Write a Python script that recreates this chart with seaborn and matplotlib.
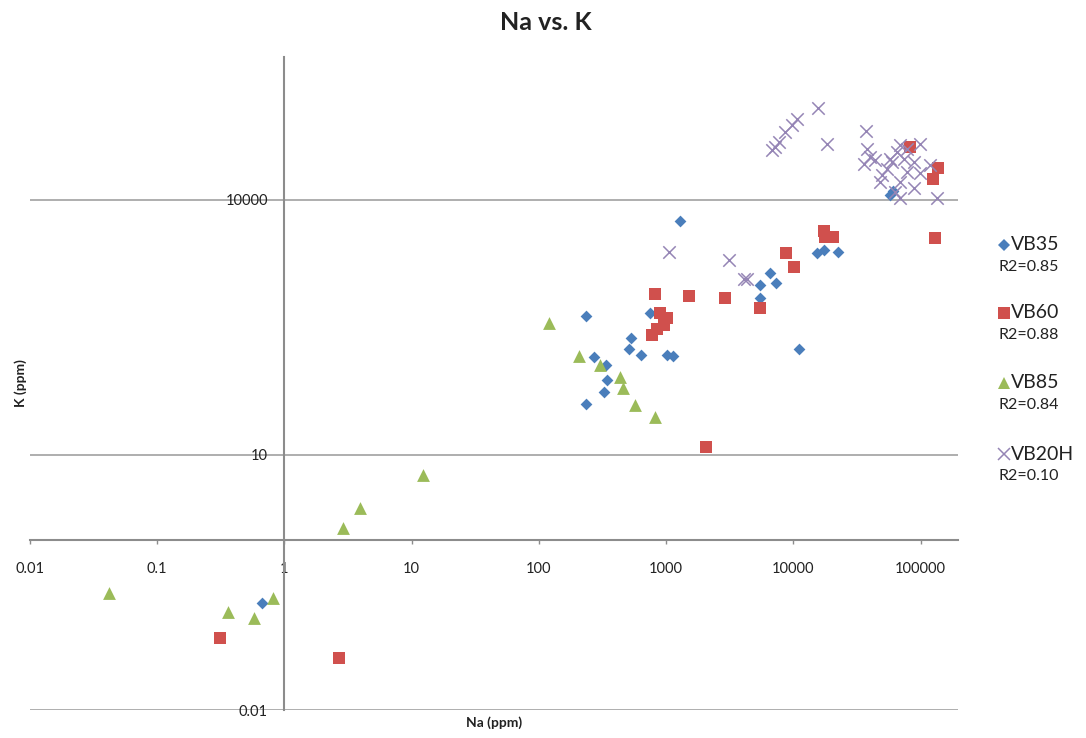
import numpy as np
import pandas as pd
import matplotlib
matplotlib.use("Agg")
import matplotlib.pyplot as plt
import seaborn as sns
from matplotlib.lines import Line2D
from matplotlib.ticker import FixedLocator, FixedFormatter, NullLocator

# ---------------- data (Na ppm, K ppm) ----------------
vb35_na = [0.66, 1290, 235, 272, 338, 343, 326, 235, 532, 506, 637, 750, 1014, 1130,
           10990, 5500, 6500, 7350, 5500, 15350, 17260, 22440, 57800, 61100]
vb35_k = [0.18, 5650, 437, 141, 115, 77, 55, 40, 237, 176, 150, 465, 151, 148,
          178, 1000, 1400, 1050, 711, 2355, 2585, 2466, 11430, 12800]

vb60_na = [0.31, 2.66, 821, 1500, 900, 1014, 955, 773, 847, 2056, 2920, 8750, 10050,
           5500, 17260, 20480, 17830, 130600, 136200, 124200, 83000]
vb60_k = [0.071, 0.041, 787, 745, 465, 406, 340, 259, 305, 12.4, 711, 2400, 1644,
          533, 4315, 3700, 3700, 3533, 23900, 17870, 42100]

vb85_na = [0.042, 0.36, 0.58, 0.81, 2.88, 3.94, 12.3, 119, 208, 303, 436, 458, 565, 821]
vb85_k = [0.24, 0.143, 0.122, 0.205, 1.37, 2.39, 5.75, 355, 148, 113, 82, 61, 39, 28]

vb20h_na = [1057, 3133, 4066, 4318, 134500, 15490, 18360, 6790, 7210, 7660, 8630, 9750,
            10670, 37240, 37930, 40300, 35660, 44000, 54450, 59600, 65300, 69200, 73500,
            78100, 88100, 99500, 99500, 69200, 88100, 63300, 49800, 48200, 119200, 69200,
            57800, 78100]
vb20h_k = [2421, 1971, 1167, 1173, 10420, 120800, 45300, 38500, 42100, 48200, 63200, 75700,
           90600, 64400, 40300, 32100, 26800, 29400, 23400, 28000, 36800, 44100, 30700,
           21400, 28000, 46000, 20500, 16400, 13650, 12500, 19600, 16400, 25700, 10420,
           30700, 40300]

series_names = ["VB35", "VB60", "VB85", "VB20H"]
r2_labels = ["R2=0.85", "R2=0.88", "R2=0.84", "R2=0.10"]

x_ticks = [0.01, 0.1, 1, 10, 100, 1000, 10000, 100000]
x_tick_labels = ["0.01", "0.1", "1", "10", "100", "1000", "10000", "100000"]
y_ticks = [0.01, 10, 10000]
y_tick_labels = ["0.01", "10", "10000"]

# ---------------- style ----------------
sns.set_theme(style="white")
plt.rcParams["font.family"] = ["Lato", "DejaVu Sans"]

colors = {"VB35": "#4a7ebb", "VB60": "#d0504d", "VB85": "#9bbb59", "VB20H": "#9585b5"}
markers = {"VB35": "D", "VB60": "s", "VB85": "^", "VB20H": "x"}
sizes = {"VB35": 36, "VB60": 70, "VB85": 85, "VB20H": 80}

frames = []
for name, na, k in [("VB35", vb35_na, vb35_k), ("VB60", vb60_na, vb60_k),
                    ("VB85", vb85_na, vb85_k), ("VB20H", vb20h_na, vb20h_k)]:
    frames.append(pd.DataFrame({"Na": na, "K": k, "series": name}))
df = pd.concat(frames, ignore_index=True)

W, H = 1086, 738
fig = plt.figure(figsize=(W / 100, H / 100), dpi=100)
ax = fig.add_axes([30 / W, 1 - 710 / H, (958 - 30) / W, (710 - 57) / H])
ax.set_xscale("log")
ax.set_yscale("log")

for name in series_names:
    sub = df[df["series"] == name]
    kw = dict(linewidth=1.1) if markers[name] == "x" else dict(linewidth=0)
    sns.scatterplot(data=sub, x="Na", y="K", ax=ax, marker=markers[name],
                    color=colors[name], s=sizes[name], legend=False, zorder=3, **kw)

ax.set_xlim(0.01, 10 ** 5.293)
ax.set_ylim(0.01, 10 ** 5.682)

# axes crossing at 1
for side in ["top", "right"]:
    ax.spines[side].set_visible(False)
ax.spines["left"].set_position(("data", 1))
ax.spines["bottom"].set_position(("data", 1))
for side in ["left", "bottom"]:
    ax.spines[side].set_color("#8c8c8c")
    ax.spines[side].set_linewidth(1.5)
    ax.spines[side].set_zorder(2)

ax.xaxis.set_major_locator(FixedLocator(x_ticks))
ax.xaxis.set_major_formatter(FixedFormatter(x_tick_labels))
ax.xaxis.set_minor_locator(NullLocator())
ax.yaxis.set_major_locator(FixedLocator(y_ticks))
ax.yaxis.set_major_formatter(FixedFormatter(y_tick_labels))
ax.yaxis.set_minor_locator(NullLocator())

ax.tick_params(axis="x", which="major", direction="out", length=3, width=1,
               color="#8c8c8c", pad=13, labelsize=10.5, labelcolor="#222222",
               bottom=True)
ax.tick_params(axis="y", which="major", direction="out", length=0, pad=12,
               labelsize=10.5, labelcolor="#222222", left=True)

ax.yaxis.grid(True, color="#a8a8a8", linewidth=1.3)
ax.xaxis.grid(False)
ax.set_axisbelow(True)
ax.set_xlabel("")
ax.set_ylabel("")

# titles
fig.text(546 / W, 1 - 22 / H, "Na vs. K", ha="center", va="center",
         fontsize=18, fontweight="bold", color="#222222")
fig.text(494 / W, 1 - 723 / H, "Na (ppm)", ha="center", va="center",
         fontsize=10, fontweight="bold", color="#222222")
fig.text(21 / W, 1 - 383 / H, "K (ppm)", ha="center", va="center", rotation=90,
         fontsize=10, fontweight="bold", color="#222222")

# legend (Excel style, marker on first line, R2 below)
leg_y = [245, 313, 383, 454]
leg_ms = {"VB35": 6, "VB60": 8, "VB85": 8.5, "VB20H": 8}
for name, r2, yy in zip(series_names, r2_labels, leg_y):
    fig.add_artist(Line2D([1004 / W], [1 - yy / H], transform=fig.transFigure,
                          marker=markers[name], color=colors[name], linestyle="none",
                          markersize=leg_ms[name], markeredgewidth=1.1 if name == "VB20H" else 0))
    fig.text(1011 / W, 1 - yy / H, name, ha="left", va="center", fontsize=14,
             color="#222222")
    fig.text(999 / W, 1 - (yy + 22) / H, r2, ha="left", va="center", fontsize=11.5,
             color="#222222")

fig.savefig("out.png", dpi=100)
